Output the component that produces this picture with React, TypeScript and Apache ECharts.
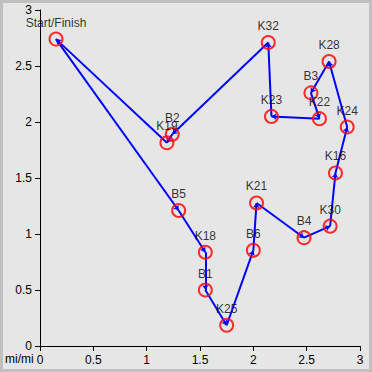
import React, { useEffect, useRef } from "react";
import * as echarts from "echarts";

const names = ["Start/Finish", "B5", "K18", "B1", "K25", "B6", "K21", "B4", "K30", "K16", "K24", "K28", "B3", "K22", "K23", "K32", "B2", "K19"];
const xs = [0.15, 1.3, 1.55, 1.55, 1.75, 2.0, 2.03, 2.475, 2.72, 2.77, 2.88, 2.71, 2.54, 2.62, 2.17, 2.14, 1.24, 1.19];
const ys = [2.74, 1.21, 0.837, 0.5, 0.185, 0.854, 1.277, 0.967, 1.07, 1.545, 1.955, 2.54, 2.26, 2.03, 2.05, 2.71, 1.89, 1.815];
const axisTicks = [0, 0.5, 1, 1.5, 2, 2.5, 3];
const unitLabel = "mi/mi";

const FONT = "Liberation Sans, Arial, sans-serif";

export default function App() {
  const ref = useRef<HTMLDivElement>(null);
  useEffect(() => {
    if (!ref.current) return;
    const chart = echarts.init(ref.current, undefined, { renderer: "svg" });
    const points = names.map((n, i) => ({ name: n, value: [xs[i], ys[i]] }));
    const segs = names.map((_, i) => {
      const j = (i + 1) % names.length;
      return { coords: [[xs[i], ys[i]], [xs[j], ys[j]]] };
    });
    const axisCommon = {
      min: axisTicks[0],
      max: axisTicks[axisTicks.length - 1],
      interval: 0.5,
      axisLine: { show: true, lineStyle: { color: "#000", width: 1 } },
      axisTick: { show: true, inside: false, length: 5, lineStyle: { color: "#000" } },
      axisLabel: { color: "#000", fontSize: 12, fontFamily: FONT, margin: 8 },
      splitLine: { show: false },
    };
    chart.setOption({
      animation: false,
      backgroundColor: "#e6e6e6",
      grid: { left: 37, right: 9, top: 7, bottom: 23, containLabel: false },
      xAxis: { type: "value", ...axisCommon },
      yAxis: { type: "value", ...axisCommon },
      graphic: [
        {
          type: "text",
          left: 2,
          top: 350,
          style: { text: unitLabel, fontSize: 12, fontFamily: FONT, fill: "#000" },
        },
      ],
      series: [
        {
          type: "lines",
          coordinateSystem: "cartesian2d",
          polyline: false,
          symbol: ["none", "arrow"],
          symbolSize: 5,
          lineStyle: { color: "#0000ff", width: 2, opacity: 1 },
          data: segs,
          z: 2,
        },
        {
          type: "scatter",
          symbol: "circle",
          symbolSize: 13,
          itemStyle: { color: "rgba(0,0,0,0)", borderColor: "#ff0000", borderWidth: 2 },
          label: {
            show: true,
            position: "top",
            distance: 3,
            formatter: "{b}",
            color: "#000",
            fontSize: 12,
            fontFamily: FONT,
          },
          data: points,
          z: 3,
        },
      ],
    });
    return () => chart.dispose();
  }, []);
  return (
    <div style={{ position: "fixed", left: 0, top: 0, width: 372, height: 372, background: "#c0c0c0" }}>
      <div ref={ref} style={{ position: "absolute", left: 3, top: 3, width: 366, height: 366 }} />
    </div>
  );
}
